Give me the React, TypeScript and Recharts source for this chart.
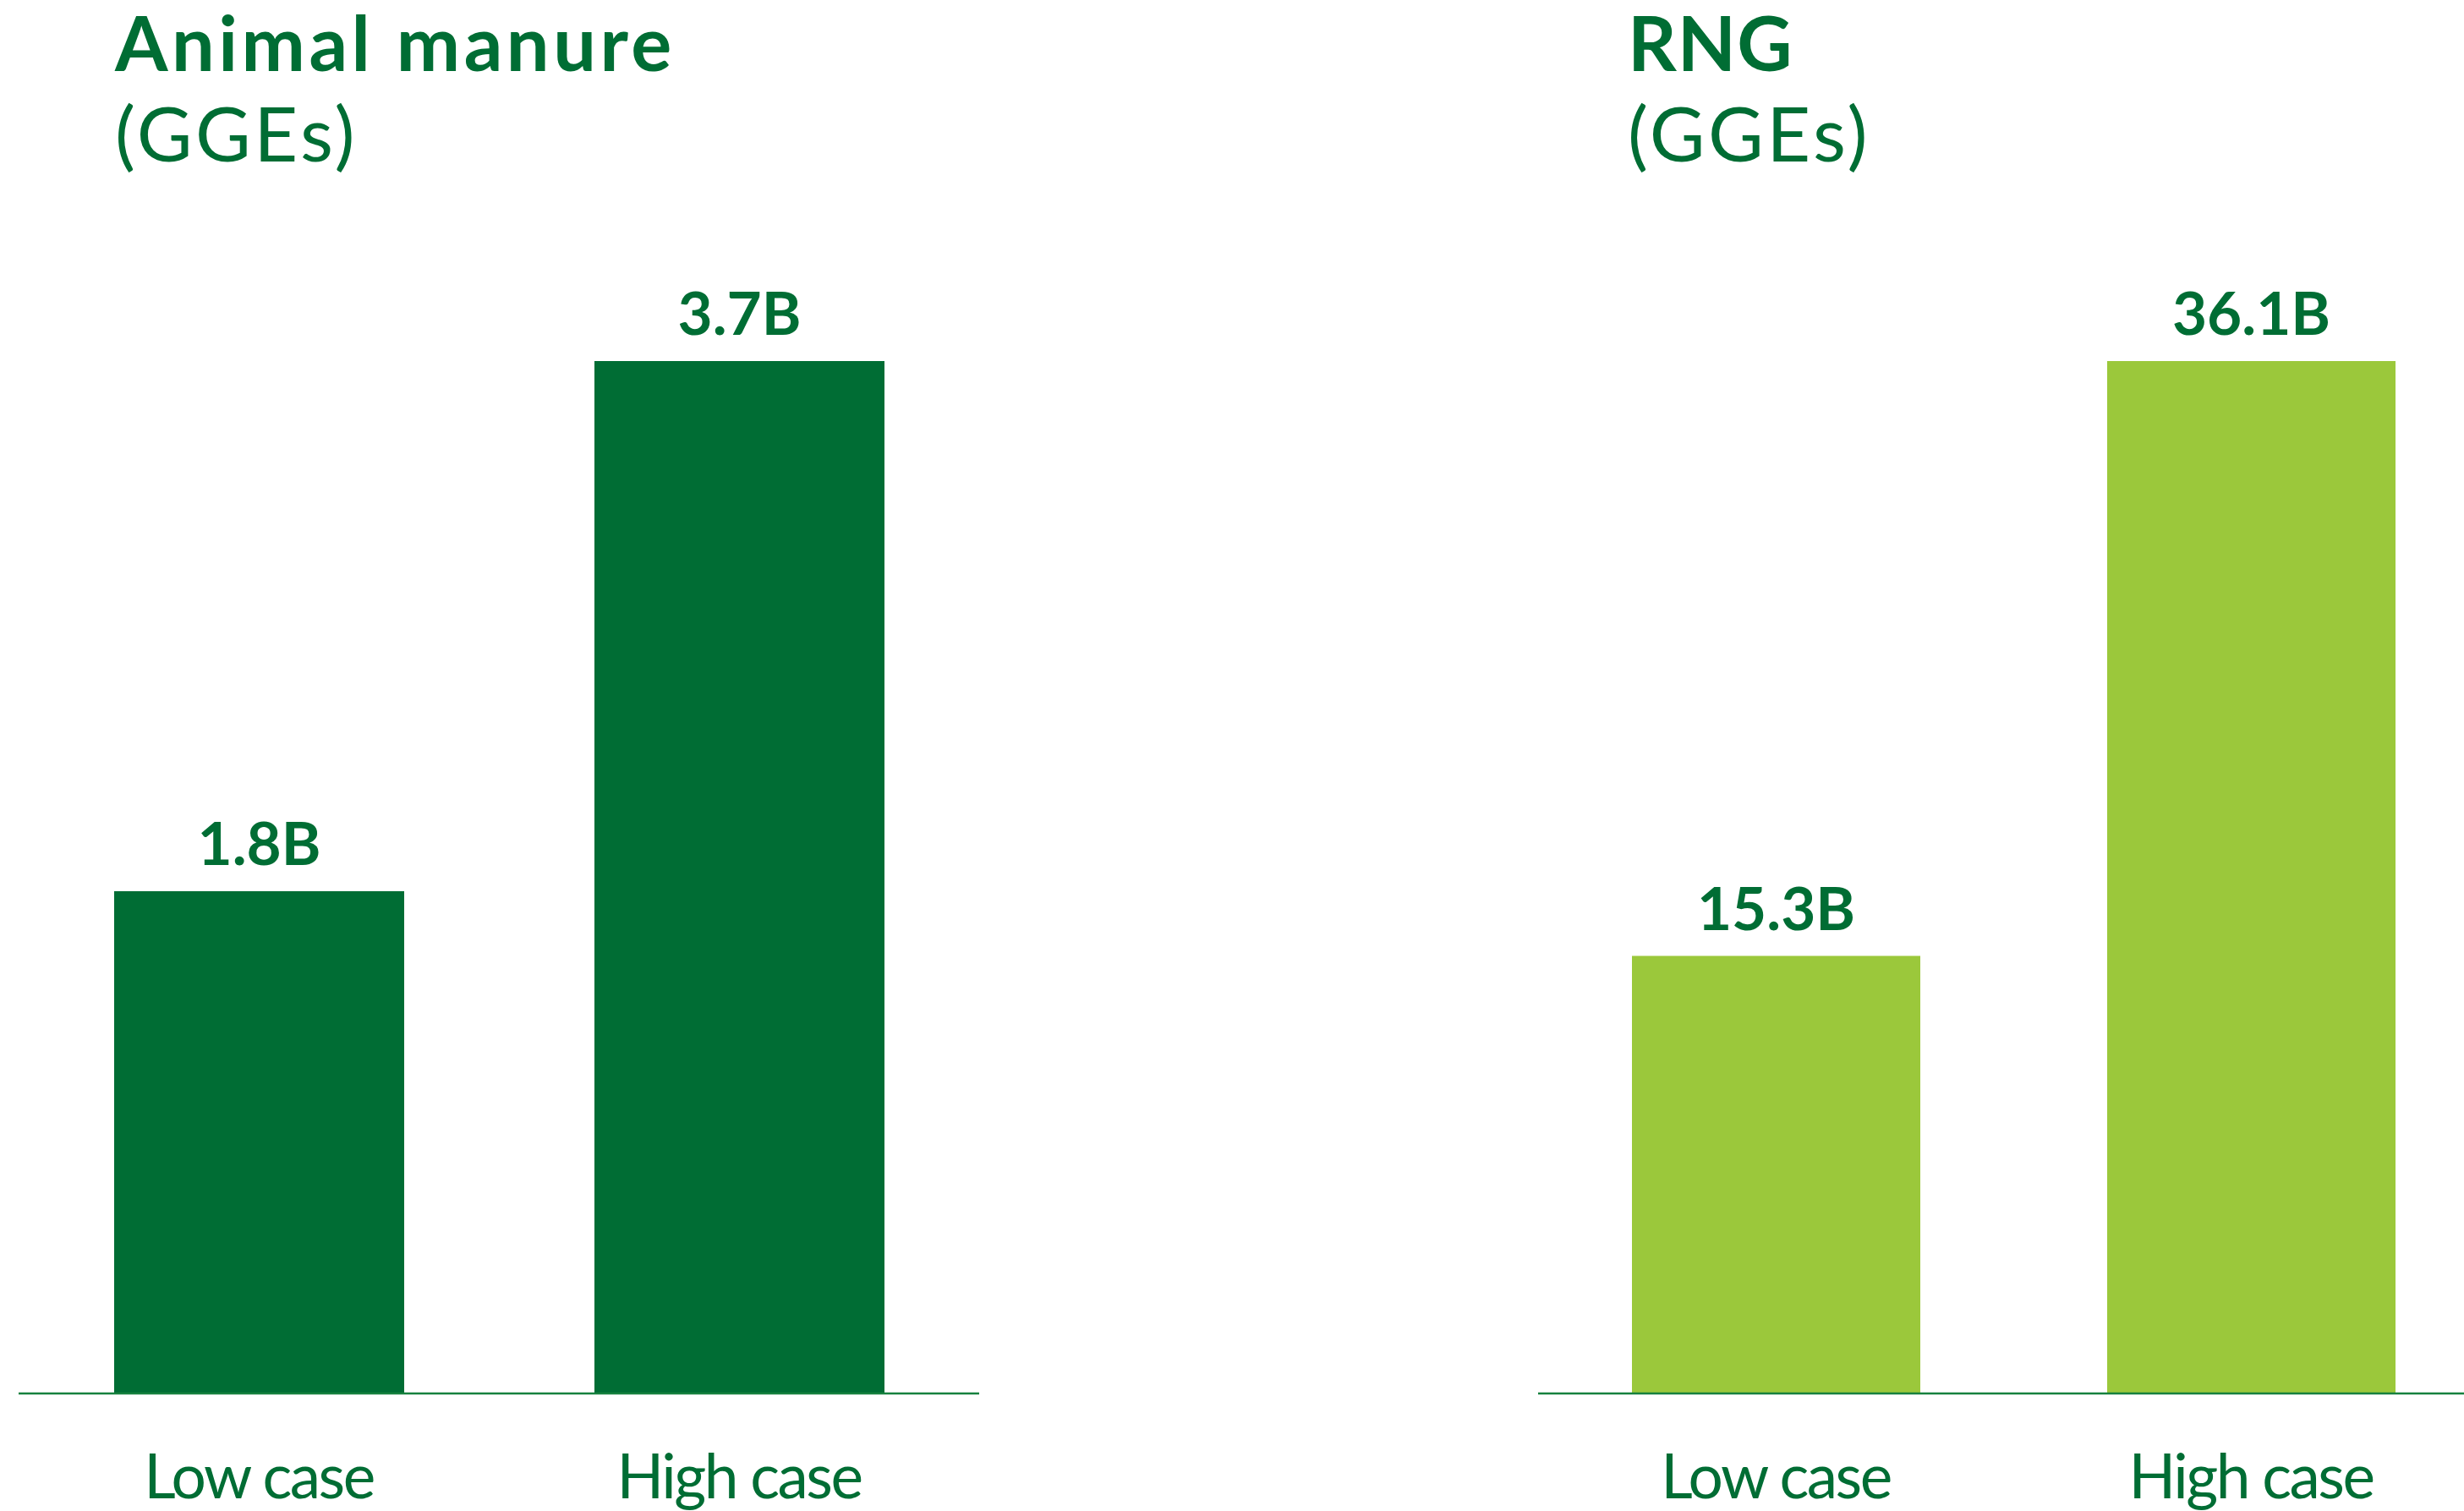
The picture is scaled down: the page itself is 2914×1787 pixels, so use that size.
import React from 'react';
import { BarChart, Bar, XAxis, YAxis, LabelList } from 'recharts';

const categories = ['Low case', 'High case'];
const manureValues = [1.8, 3.7];
const rngValues = [15.3, 36.1];
const titles = ['Animal manure', 'RNG'];
const unitLabel = '(GGEs)';

const DARK = '#006d34';
const LIGHT = '#9bc83b';
const AXIS = '#17813f';
const FONT = 'Lato, "Open Sans", sans-serif';

const manureData = categories.map((c, i) => ({ name: c, value: manureValues[i] }));
const rngData = categories.map((c, i) => ({ name: c, value: rngValues[i] }));

const CatTick = (props: any) => {
  const { x, y, payload } = props;
  return (
    <text x={x} y={y + 124} textAnchor="middle" fill={DARK} fontSize={73} fontFamily={FONT} fontWeight={400} letterSpacing={-2.5}>
      {payload.value}
    </text>
  );
};

const ValueLabel = (props: any) => {
  const { x, y, width, value } = props;
  return (
    <text x={Number(x) + Number(width) / 2} y={Number(y) - 31} textAnchor="middle" fill={DARK} fontSize={71} fontFamily={FONT} fontWeight={700}>
      {`${value}B`}
    </text>
  );
};

function CaseChart({ data, color, left, mLeft, mRight, barSize }: any) {
  return (
    <div style={{ position: 'absolute', left, top: 0 }}>
      <BarChart width={1200} height={1787} data={data} margin={{ top: 427, right: mRight, bottom: 0, left: mLeft }}>
        <XAxis
          dataKey="name"
          height={139}
          tickLine={false}
          tickSize={0}
          tickMargin={0}
          axisLine={{ stroke: AXIS, strokeWidth: 2.5 }}
          tick={<CatTick />}
          interval={0}
        />
        <YAxis hide domain={[0, 'dataMax']} />
        <Bar dataKey="value" fill={color} barSize={barSize} isAnimationActive={false}>
          <LabelList dataKey="value" content={<ValueLabel />} />
        </Bar>
      </BarChart>
    </div>
  );
}

export default function App() {
  return (
    <div style={{ position: 'absolute', left: 0, top: 0, width: 2914, height: 1787, overflow: 'hidden', background: '#fff' }}>
      <CaseChart data={manureData} color={DARK} left={0} mLeft={22} mRight={42} barSize={343} />
      <CaseChart data={rngData} color={LIGHT} left={1780} mLeft={39} mRight={37} barSize={341} />
      <svg style={{ position: 'absolute', left: 0, top: 0 }} width={2914} height={260}>
        <text x={136} y={84} fill={DARK} fontSize={90} fontFamily={FONT} fontWeight={700} letterSpacing={4.5}>{titles[0]}</text>
        <text x={136} y={191} fill={DARK} fontSize={90} fontFamily={FONT} fontWeight={400} letterSpacing={3.5}>{unitLabel}</text>
        <text x={1925} y={84} fill={DARK} fontSize={90} fontFamily={FONT} fontWeight={700} letterSpacing={1}>{titles[1]}</text>
        <text x={1925} y={191} fill={DARK} fontSize={90} fontFamily={FONT} fontWeight={400} letterSpacing={3.5}>{unitLabel}</text>
      </svg>
    </div>
  );
}
